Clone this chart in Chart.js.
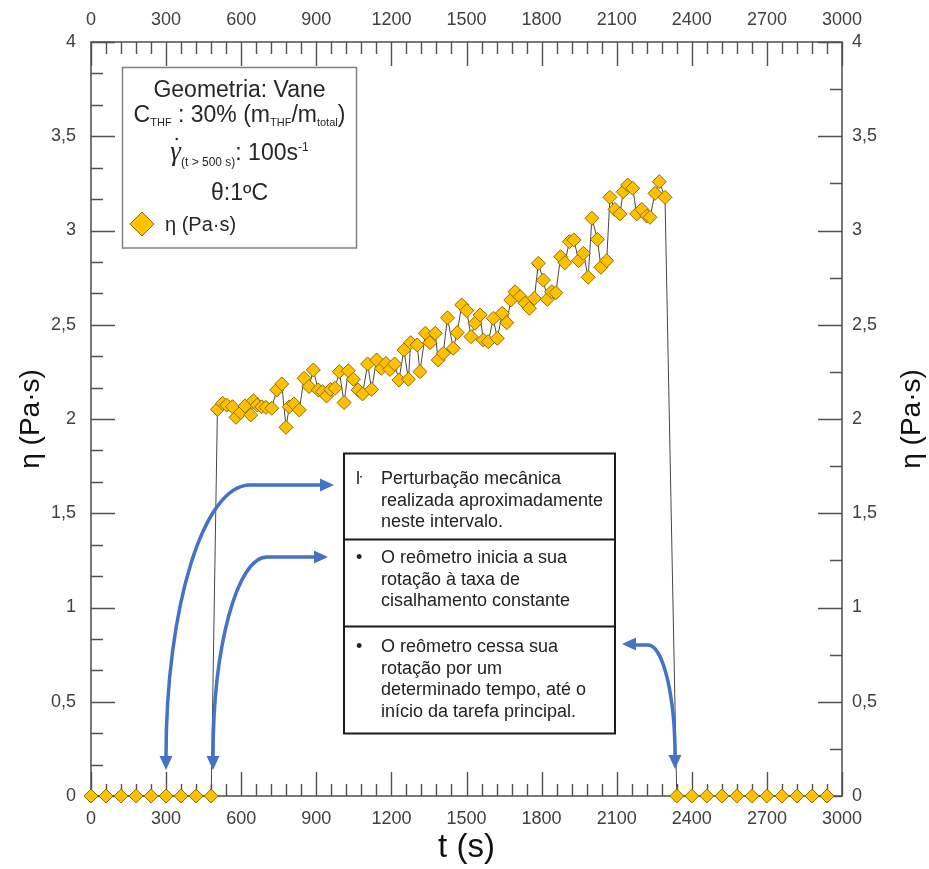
<!DOCTYPE html>
<html>
<head>
<meta charset="utf-8">
<script src="https://cdn.jsdelivr.net/npm/chart.js@4"></script>
<style>
html,body{margin:0;padding:0;background:#fff;}
#wrap{width:929px;height:869px;position:relative;}
</style>
</head>
<body>
<div id="wrap"><canvas id="c" width="929" height="869"></canvas></div>
<script>
// ---------------- data ----------------
const tSeconds = [
  0,60,120,180,240,300,360,420,480,
  505,526,542,565,579,598,615,638,649,664,
  682,699,722,742,762,779,792,811,832,851,
  871,888,908,925,941,957,975,992,1011,1028,
  1048,1067,1085,1105,1121,1141,1160,1178,1194,1213,
  1230,1250,1268,1277,1303,1314,1336,1354,1375,1387,
  1407,1424,1447,1463,1481,1501,1518,1534,1554,1567,
  1587,1607,1623,1643,1661,1677,1694,1714,1734,1751,
  1771,1787,1807,1823,1840,1857,1876,1893,1911,1929,
  1948,1967,1986,2001,2023,2037,2060,2073,2093,2113,
  2126,2144,2164,2180,2200,2220,2233,2253,2270,2293,
  2340,2400,2460,2520,2580,2640,2700,2760,2820,2880,2940
];
const etaPaS = [
  0,0,0,0,0,0,0,0,0,
  2.051,2.083,2.074,2.065,2.009,2.035,2.069,2.021,2.097,2.074,
  2.065,2.062,2.057,2.154,2.186,1.956,2.065,2.080,2.048,2.216,
  2.172,2.260,2.154,2.145,2.122,2.157,2.163,2.251,2.087,2.256,
  2.211,2.154,2.133,2.292,2.157,2.313,2.269,2.295,2.263,2.292,
  2.207,2.366,2.211,2.405,2.393,2.251,2.455,2.405,2.455,2.313,
  2.348,2.537,2.375,2.458,2.605,2.575,2.437,2.508,2.552,2.419,
  2.410,2.534,2.428,2.561,2.511,2.631,2.675,2.649,2.614,2.587,
  2.640,2.826,2.737,2.635,2.675,2.670,2.861,2.829,2.941,2.950,
  2.840,2.879,2.752,3.065,2.953,2.805,2.840,3.176,3.112,3.088,
  3.206,3.241,3.224,3.088,3.112,3.077,3.070,3.197,3.259,3.176,
  0,0,0,0,0,0,0,0,0,0,0
];
const xRange = [0, 3000];
const yRange = [0, 4];
const xMajorStep = 300, xMinorStep = 60;
const yMajorStep = 0.5, yLeftMinorStep = 1/6, yRightMinorStep = 0.25;

const seriesLabel = 'η (Pa·s)';
const xTitle = 't (s)';
const yTitle = 'η (Pa·s)';
const noteRows = [
  {bullet:'ŀ', lines:['Perturbação mecânica','realizada aproximadamente','neste intervalo.']},
  {bullet:'•', lines:['O reômetro inicia a sua','rotação à taxa de','cisalhamento constante']},
  {bullet:'•', lines:['O reômetro cessa sua','rotação por um','determinado tempo, até o','início da tarefa principal.']}
];

// ---------------- styles ----------------
const FONT = "'Liberation Sans', Arial, sans-serif";
const GOLD = '#FFC000', GOLD_EDGE = '#8C6D00';
const AX = '#4d4d4d';
const BLUE = '#4472C4';

const fmt = v => String(Math.round(v*1000)/1000).replace('.', ',');

function tickCfg(pad){
  return {stepSize: 0, padding: pad, color:'#404040', font:{family:FONT,size:18},
          maxRotation:0, autoSkip:false, callback: fmt};
}

// frame & inward ticks
const framePlugin = {
  id:'frame',
  beforeDatasetsDraw(chart){
    const ctx = chart.ctx;
    const {left,right,top,bottom} = chart.chartArea;
    const xs = chart.scales.x, yl = chart.scales.y, yr = chart.scales.y2;
    ctx.save();
    ctx.strokeStyle = AX; ctx.lineWidth = 1.5;
    ctx.strokeRect(left, top, right-left, bottom-top);
    ctx.lineWidth = 1.4; ctx.strokeStyle = '#505050';
    ctx.beginPath();
    const nX = Math.round((xRange[1]-xRange[0])/xMinorStep);
    for (let k=0;k<=nX;k++){
      const v = xRange[0]+k*xMinorStep;
      const px = Math.round(xs.getPixelForValue(v))+0.5;
      const len = (k % Math.round(xMajorStep/xMinorStep) === 0) ? 24 : 12;
      ctx.moveTo(px,bottom); ctx.lineTo(px,bottom-len);
      ctx.moveTo(px,top); ctx.lineTo(px,top+len);
    }
    const nL = Math.round((yRange[1]-yRange[0])/yLeftMinorStep);
    const rL = Math.round(yMajorStep/yLeftMinorStep);
    for (let k=0;k<=nL;k++){
      const v = yRange[0]+k*yLeftMinorStep;
      const py = Math.round(yl.getPixelForValue(v))+0.5;
      const len = (k % rL === 0) ? 24 : 12;
      ctx.moveTo(left,py); ctx.lineTo(left+len,py);
    }
    const nR = Math.round((yRange[1]-yRange[0])/yRightMinorStep);
    const rR = Math.round(yMajorStep/yRightMinorStep);
    for (let k=0;k<=nR;k++){
      const v = yRange[0]+k*yRightMinorStep;
      const py = Math.round(yr.getPixelForValue(v))+0.5;
      const len = (k % rR === 0) ? 24 : 12;
      ctx.moveTo(right,py); ctx.lineTo(right-len,py);
    }
    ctx.stroke();
    ctx.restore();
  }
};

function drawRich(ctx, segs, cx, baseY, color){
  let total = 0;
  segs.forEach(s=>{ ctx.font = (s.style||'') + ' ' + s.size + 'px ' + (s.family||FONT); s.w = ctx.measureText(s.t).width; total += s.w; });
  let x = cx - total/2;
  ctx.fillStyle = color; ctx.textAlign='left'; ctx.textBaseline='alphabetic';
  segs.forEach(s=>{ ctx.font = (s.style||'') + ' ' + s.size + 'px ' + (s.family||FONT); s.x = x; ctx.fillText(s.t, x, baseY + (s.dy||0)); x += s.w; });
  return segs;
}

function head(ctx, tx, ty, ang, len, wid){
  ctx.save(); ctx.translate(tx,ty); ctx.rotate(ang);
  ctx.beginPath(); ctx.moveTo(0,0); ctx.lineTo(-len, -wid/2); ctx.lineTo(-len, wid/2); ctx.closePath();
  ctx.fill(); ctx.restore();
}

const overlayPlugin = {
  id:'overlay',
  afterDraw(chart){
    const ctx = chart.ctx;
    ctx.save();
    // right axis title (reads bottom-to-top like the left one)
    ctx.translate(912, (chart.chartArea.top+chart.chartArea.bottom)/2);
    ctx.rotate(-Math.PI/2);
    ctx.fillStyle='#111'; ctx.font = '28px ' + FONT; ctx.textAlign='center'; ctx.textBaseline='middle';
    ctx.fillText(yTitle, 0, 0);
    ctx.restore();

    // legend / info box
    ctx.save();
    ctx.fillStyle='#fff'; ctx.fillRect(122.5,67.5,234,180.5);
    ctx.strokeStyle='#7f7f7f'; ctx.lineWidth=1.5; ctx.strokeRect(122.5,67.5,234,180.5);
    const TC = '#262626', cx = 239.5;
    drawRich(ctx, [{t:'Geometria: Vane', size:23}], cx, 97, TC);
    drawRich(ctx, [{t:'C',size:23},{t:'THF',size:11,dy:4},{t:' : 30% (m',size:23},{t:'THF',size:11,dy:4},{t:'/m',size:23},{t:'total',size:11,dy:4},{t:')',size:23}], cx, 122, TC);
    const s3 = drawRich(ctx, [{t:'γ',size:27,style:'italic',family:"'Liberation Serif', serif"},{t:'(t > 500 s)',size:12,dy:6},{t:': 100s',size:23},{t:'-1',size:12,dy:-9}], cx, 160, TC);
    ctx.beginPath(); ctx.arc(s3[0].x + s3[0].w*0.6, 139, 1.2, 0, Math.PI*2); ctx.fillStyle=TC; ctx.fill();
    drawRich(ctx, [{t:'θ:1ºC', size:23}], cx, 200, TC);
    // legend marker
    ctx.beginPath(); ctx.moveTo(142,212); ctx.lineTo(154,224); ctx.lineTo(142,236); ctx.lineTo(130,224); ctx.closePath();
    ctx.fillStyle=GOLD; ctx.fill(); ctx.strokeStyle=GOLD_EDGE; ctx.lineWidth=1; ctx.stroke();
    ctx.fillStyle=TC; ctx.font='20px '+FONT; ctx.textAlign='left'; ctx.textBaseline='alphabetic';
    ctx.fillText(seriesLabel, 165, 231);
    ctx.restore();

    // notes table
    ctx.save();
    const tl = 344, tr = 615, tt = 453.5, dividers = [539.5, 626.5], tb = 733.5;
    ctx.fillStyle='#fff'; ctx.fillRect(tl,tt,tr-tl,tb-tt);
    ctx.strokeStyle='#1a1a1a'; ctx.lineWidth=2;
    ctx.strokeRect(tl,tt,tr-tl,tb-tt);
    ctx.beginPath(); dividers.forEach(d=>{ctx.moveTo(tl,d);ctx.lineTo(tr,d);}); ctx.stroke();
    ctx.fillStyle='#222'; ctx.font='18px '+FONT; ctx.textAlign='left'; ctx.textBaseline='alphabetic';
    const rowBase = [484, 563, 652];
    noteRows.forEach((r,i)=>{
      ctx.font='18px '+FONT;
      ctx.fillText(r.bullet, 356, rowBase[i]);
      r.lines.forEach((ln,j)=> ctx.fillText(ln, 381, rowBase[i] + j*21.6));
    });
    ctx.restore();

    // blue arrows
    ctx.save();
    ctx.strokeStyle=BLUE; ctx.fillStyle=BLUE; ctx.lineWidth=3.5; ctx.lineCap='round';
    const k = 0.5523;
    ctx.beginPath(); ctx.moveTo(166,757);
    ctx.bezierCurveTo(166, 757-k*272, 250-k*84, 485, 250, 485); ctx.lineTo(322,485); ctx.stroke();
    head(ctx, 166, 770, Math.PI/2, 14, 13); head(ctx, 334, 485, 0, 14, 13);
    ctx.beginPath(); ctx.moveTo(213,757);
    ctx.bezierCurveTo(213, 757-k*200, 267-k*54, 557, 267, 557); ctx.lineTo(316,557); ctx.stroke();
    head(ctx, 213, 770, Math.PI/2, 14, 13); head(ctx, 328, 557, 0, 14, 13);
    ctx.beginPath(); ctx.moveTo(675,756);
    ctx.bezierCurveTo(675, 757-k*112, 648+k*27, 645, 648, 645); ctx.lineTo(634,645); ctx.stroke();
    head(ctx, 675, 769, Math.PI/2, 14, 13); head(ctx, 622, 644, Math.PI, 14, 13);
    ctx.restore();
  }
};

const points = tSeconds.map((t,i)=>({x:t, y:etaPaS[i]}));

const baseX = {type:'linear', min:xRange[0], max:xRange[1],
  grid:{display:false, drawTicks:false}, border:{display:false}};
const baseY = {type:'linear', min:yRange[0], max:yRange[1],
  grid:{display:false, drawTicks:false}, border:{display:false}};

new Chart(document.getElementById('c').getContext('2d'), {
  type:'scatter',
  data:{datasets:[{
    label: seriesLabel, data: points, showLine:true, tension:0,
    borderColor:'#474747', borderWidth:1,
    pointStyle:'rectRot', pointRadius:7, pointHoverRadius:7,
    pointBackgroundColor:GOLD, pointBorderColor:GOLD_EDGE, pointBorderWidth:1,
    clip:false
  }]},
  options:{
    responsive:false, animation:false, devicePixelRatio:1,
    layout:{padding:0},
    plugins:{legend:{display:false}, tooltip:{enabled:false}},
    scales:{
      x: Object.assign({}, baseX, {position:'bottom',
        ticks:Object.assign(tickCfg(12), {stepSize:xMajorStep}),
        title:{display:true, text:xTitle, color:'#111', font:{family:FONT,size:33}, padding:{top:0,bottom:1}},
        afterFit(s){ s.height = 73; }}),
      x2: Object.assign({}, baseX, {position:'top',
        ticks:Object.assign(tickCfg(11), {stepSize:xMajorStep}),
        afterFit(s){ s.height = 42; }}),
      y: Object.assign({}, baseY, {position:'left',
        ticks:Object.assign(tickCfg(15), {stepSize:yMajorStep}),
        title:{display:true, text:yTitle, color:'#111', font:{family:FONT,size:28}, padding:{top:14,bottom:0}},
        afterFit(s){ s.width = 91; }}),
      y2: Object.assign({}, baseY, {position:'right',
        ticks:Object.assign(tickCfg(10), {stepSize:yMajorStep}),
        afterFit(s){ s.width = 87; }})
    }
  },
  plugins:[framePlugin, overlayPlugin]
});
</script>
</body>
</html>
